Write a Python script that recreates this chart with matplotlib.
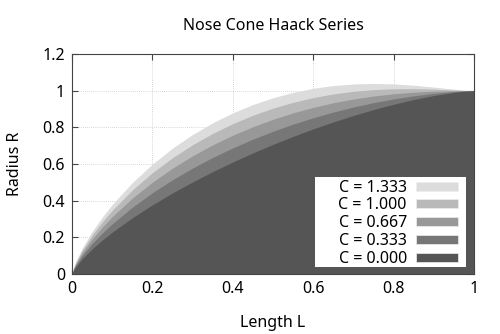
import matplotlib
matplotlib.use("Agg")
import matplotlib.pyplot as plt
from matplotlib.patches import Patch, Rectangle

plt.rcParams['font.family'] = ['Noto Sans', 'DejaVu Sans']

length = [0, 0.005, 0.01, 0.025, 0.05, 0.075, 0.1, 0.15, 0.2, 0.25, 0.3, 0.35,
          0.4, 0.45, 0.5, 0.55, 0.6, 0.65, 0.7, 0.75, 0.8, 0.85, 0.9, 0.95,
          0.975, 1.0]

r_c0000 = [0, 0.0245, 0.0411, 0.0816, 0.1367, 0.1846, 0.2281, 0.3067, 0.3773,
           0.4422, 0.5023, 0.5585, 0.6112, 0.6606, 0.7071, 0.7507, 0.7915,
           0.8295, 0.8647, 0.8969, 0.9261, 0.9518, 0.9736, 0.9906, 0.9967, 1.0]
r_c0333 = [0, 0.0299, 0.0503, 0.0995, 0.1658, 0.2227, 0.2738, 0.3643, 0.4435,
           0.5142, 0.5779, 0.6356, 0.6880, 0.7355, 0.7785, 0.8174, 0.8522,
           0.8833, 0.9107, 0.9346, 0.9550, 0.9719, 0.9853, 0.9950, 0.9983, 1.0]
r_c0667 = [0, 0.0346, 0.0580, 0.1145, 0.1904, 0.2551, 0.3129, 0.4139, 0.5010,
           0.5774, 0.6447, 0.7044, 0.7571, 0.8034, 0.8439, 0.8790, 0.9089,
           0.9340, 0.9545, 0.9707, 0.9830, 0.9916, 0.9969, 0.9994, 0.9999, 1.0]
r_c1000 = [0, 0.0386, 0.0648, 0.1279, 0.2123, 0.2839, 0.3476, 0.4583, 0.5526,
           0.6342, 0.7053, 0.7670, 0.8203, 0.8660, 0.9046, 0.9365, 0.9622,
           0.9820, 0.9964, 1.0056, 1.0103, 1.0109, 1.0083, 1.0038, 1.0015, 1.0]
r_c1333 = [0, 0.0423, 0.0710, 0.1399, 0.2320, 0.3100, 0.3791, 0.4986, 0.5997,
           0.6864, 0.7610, 0.8248, 0.8791, 0.9244, 0.9615, 0.9908, 1.0128,
           1.0279, 1.0366, 1.0393, 1.0368, 1.0298, 1.0196, 1.0082, 1.0031, 1.0]

series = [("C = 1.333", r_c1333, "#dcdcdc"),
          ("C = 1.000", r_c1000, "#b9b9b9"),
          ("C = 0.667", r_c0667, "#989898"),
          ("C = 0.333", r_c0333, "#777777"),
          ("C = 0.000", r_c0000, "#555555")]

FS = 11.5

fig = plt.figure(figsize=(5.0, 3.34), dpi=100)
ax = fig.add_axes([0.144, 0.1796, 0.804, 0.6587])

for label, vals, col in series:
    ax.fill_between(length, 0, vals, color=col, lw=0, zorder=2)

ax.set_xlim(0, 1)
ax.set_ylim(0, 1.2)
ax.set_xticks([0, 0.2, 0.4, 0.6, 0.8, 1])
ax.set_xticklabels(["0", "0.2", "0.4", "0.6", "0.8", "1"])
ax.set_yticks([0, 0.2, 0.4, 0.6, 0.8, 1, 1.2])
ax.set_yticklabels(["0", "0.2", "0.4", "0.6", "0.8", "1", "1.2"])
ax.grid(True, color="#c8c8c8", linestyle=(0, (1, 1.5)), linewidth=0.6, zorder=1)
ax.set_axisbelow(True)
ax.tick_params(direction="in", length=4, width=0.8, color="#444444",
               top=True, right=True, labelsize=FS, pad=5)
for s in ax.spines.values():
    s.set_color("#444444")
    s.set_linewidth(0.8)
    s.set_zorder(5)

ax.set_xlabel("Length L", fontsize=FS, labelpad=13)
ax.set_ylabel("Radius R", fontsize=FS, labelpad=14)
ax.set_title("Nose Cone Haack Series", fontsize=FS, pad=17)

# white legend background box
ax.add_patch(Rectangle((0.6045, 0.032), 0.3755, 0.409, transform=ax.transAxes,
                       facecolor="white", edgecolor="none", zorder=6))

handles = [Patch(facecolor=c, edgecolor="#eeeeee", linewidth=0.5, label=l)
           for l, v, c in series]
leg = ax.legend(handles=handles, loc="lower right", bbox_to_anchor=(0.960, 0.033),
                borderaxespad=0, markerfirst=False, fontsize=FS, frameon=False,
                handlelength=2.6, handleheight=0.5, handletextpad=0.6,
                labelspacing=0.11, borderpad=0)
leg.set_zorder(7)

fig.savefig("out.png", dpi=100)
